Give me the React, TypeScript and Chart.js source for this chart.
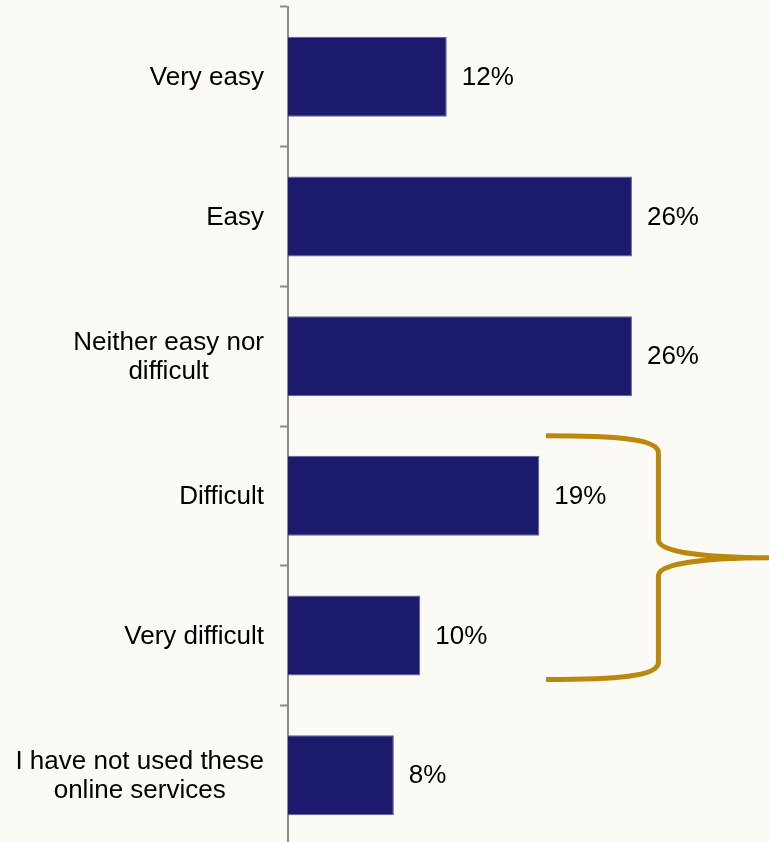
import React, { useEffect, useRef } from "react";
import { Chart, registerables } from "chart.js";

Chart.register(...registerables);

const categories: (string | string[])[] = [
  "Very easy",
  "Easy",
  ["Neither easy nor", "difficult"],
  "Difficult",
  "Very difficult",
  ["I have not used these", "online services"],
];
const values: number[] = [12, 26, 26, 19, 10, 8];
const valueLabels: string[] = ["12%", "26%", "26%", "19%", "10%", "8%"];

const FONT = "'Liberation Sans', Arial, sans-serif";
const BG = "#FBFAF5";
const FONT_SIZE = 26;
const LINE_H = 29;

const valueLabelPlugin = {
  id: "valueLabels",
  afterDatasetsDraw(chart: any) {
    const ctx = chart.ctx;
    const meta = chart.getDatasetMeta(0);
    ctx.save();
    ctx.fillStyle = "#000";
    ctx.font = `${FONT_SIZE}px ${FONT}`;
    ctx.textAlign = "left";
    ctx.textBaseline = "middle";
    meta.data.forEach((bar: any, i: number) => {
      ctx.fillText(valueLabels[i], bar.x + 15, bar.y + 1);
    });
    ctx.restore();
  },
};

const categoryLabelPlugin = {
  id: "categoryLabels",
  afterDraw(chart: any) {
    const ctx = chart.ctx;
    const y = chart.scales.y;
    const right = chart.chartArea.left - 24;
    ctx.save();
    ctx.fillStyle = "#000";
    ctx.font = `${FONT_SIZE}px ${FONT}`;
    ctx.textAlign = "center";
    ctx.textBaseline = "middle";
    categories.forEach((lab, i) => {
      const lines = Array.isArray(lab) ? lab : [lab];
      const w = Math.max(...lines.map((l) => ctx.measureText(l).width));
      const cx = right - w / 2;
      const cy = y.getPixelForValue(i);
      const start = cy - ((lines.length - 1) * LINE_H) / 2;
      lines.forEach((l, j) => {
        ctx.fillText(l, cx, start + j * LINE_H + 1);
      });
    });
    ctx.restore();
  },
};

const bracePlugin = {
  id: "brace",
  afterDraw(chart: any) {
    const ctx = chart.ctx;
    const y = chart.scales.y;
    const x = chart.scales.x;
    const top = y.getPixelForValue(3) - 60;
    const bottom = y.getPixelForValue(4) + 44;
    const mid = (top + bottom) / 2;
    const xl = x.getPixelForValue(19.5);
    const xv = x.getPixelForValue(28);
    const xt = chart.width;
    ctx.save();
    ctx.strokeStyle = "#BA880C";
    ctx.lineWidth = 5;
    ctx.lineCap = "butt";
    ctx.lineJoin = "round";
    ctx.beginPath();
    ctx.moveTo(xl, top);
    ctx.bezierCurveTo(xl + 70, top, xv, top + 3, xv, top + 17);
    ctx.lineTo(xv, mid - 18);
    ctx.bezierCurveTo(xv, mid - 6, xv + 45, mid, xt, mid);
    ctx.bezierCurveTo(xv + 45, mid, xv, mid + 6, xv, mid + 18);
    ctx.lineTo(xv, bottom - 17);
    ctx.bezierCurveTo(xv, bottom - 3, xl + 70, bottom, xl, bottom);
    ctx.stroke();
    ctx.restore();
  },
};

export default function App() {
  const ref = useRef<HTMLCanvasElement | null>(null);
  useEffect(() => {
    if (!ref.current) return;
    const chart = new Chart(ref.current, {
      type: "bar",
      data: {
        labels: categories,
        datasets: [
          {
            data: values,
            backgroundColor: "#1B1A6C",
            borderColor: "#5E5E98",
            borderWidth: 1,
            barPercentage: 0.573,
            categoryPercentage: 1,
          },
        ],
      },
      options: {
        indexAxis: "y",
        animation: false,
        responsive: false,
        devicePixelRatio: 1,
        layout: { padding: { top: 7, bottom: 5, right: 18, left: 0 } },
        plugins: {
          legend: { display: false },
          tooltip: { enabled: false },
        },
        scales: {
          x: { display: false, min: 0, max: 35 },
          y: {
            afterFit: (scale: any) => {
              scale.width = 288;
              scale.paddingTop = 0;
              scale.paddingBottom = 0;
            },
            grid: {
              offset: true,
              drawOnChartArea: false,
              drawTicks: true,
              tickLength: 8,
              tickWidth: 2,
              tickColor: "#8C8C8C",
            },
            border: { display: true, color: "#8C8C8C", width: 2 },
            ticks: { display: false },
          },
        },
      },
      plugins: [valueLabelPlugin, categoryLabelPlugin, bracePlugin],
    });
    return () => chart.destroy();
  }, []);
  return (
    <div
      style={{
        position: "fixed",
        left: 0,
        top: 0,
        width: 769,
        height: 842,
        overflow: "hidden",
        background: BG,
      }}
    >
      <canvas ref={ref} width={769} height={850} style={{ display: "block" }} />
    </div>
  );
}
